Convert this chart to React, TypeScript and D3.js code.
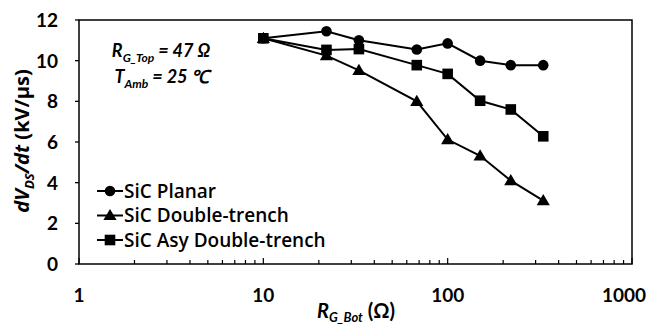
import React from "react";
import * as d3 from "d3";

const xValues = [10, 22, 33, 68, 100, 150, 220, 330];
const planar = [11.1, 11.45, 11.0, 10.55, 10.85, 10.0, 9.78, 9.78];
const doubleTrench = [11.1, 10.25, 9.52, 8.0, 6.12, 5.32, 4.1, 3.12];
const asyDoubleTrench = [11.1, 10.53, 10.57, 9.78, 9.35, 8.03, 7.6, 6.28];
const yTicks = [0, 2, 4, 6, 8, 10, 12];
const xTicks = [1, 10, 100, 1000];
const seriesNames = ["SiC Planar", "SiC Double-trench", "SiC Asy Double-trench"];

const FONT = "Lato, 'Open Sans', sans-serif";
const FONT2 = "'Open Sans', Lato, sans-serif";

function Marker({ type, x, y }: { type: string; x: number; y: number }) {
  if (type === "circle") return <circle cx={x} cy={y} r={5.3} fill="#000" />;
  if (type === "square") return <rect x={x - 5.3} y={y - 5.3} width={10.6} height={10.6} fill="#000" />;
  const s = 6.6;
  return <path d={`M${x},${y - s}L${x + s},${y + s * 0.7}L${x - s},${y + s * 0.7}Z`} fill="#000" />;
}

export default function App() {
  const x = d3.scaleLog().domain([1, 1000]).range([79, 632]);
  const y = d3.scaleLinear().domain([0, 12]).range([264, 20]);
  const line = d3
    .line<[number, number]>()
    .x((d) => x(d[0]))
    .y((d) => y(d[1]));
  const series = [
    { name: seriesNames[0], data: planar, marker: "circle" },
    { name: seriesNames[1], data: doubleTrench, marker: "triangle" },
    { name: seriesNames[2], data: asyDoubleTrench, marker: "square" },
  ];
  const minorTicks: number[] = [];
  for (let dec = 1; dec < 1000; dec *= 10) {
    for (let k = 2; k <= 9; k++) minorTicks.push(dec * k);
  }
  const [x0, x1] = x.range();
  const [yb, yt] = y.range();
  return (
    <svg
      width={649}
      height={324}
      style={{ position: "absolute", left: 0, top: 0, background: "#fff" }}
      fontFamily={FONT}
    >
      <rect x={0} y={0} width={649} height={324} fill="#fff" />
      {/* frame */}
      <rect x={x0} y={yt} width={x1 - x0} height={yb - yt} fill="none" stroke="#000" strokeWidth={1.5} />
      {/* y ticks */}
      {yTicks.map((t) => (
        <g key={t}>
          <line x1={x0 - 4} x2={x0} y1={y(t)} y2={y(t)} stroke="#000" strokeWidth={1.3} />
          <text x={58} y={y(t)} dy="0.36em" textAnchor="end" fontSize={19} fontWeight={700}>
            {t}
          </text>
        </g>
      ))}
      {/* x ticks */}
      {minorTicks.map((t) => (
        <line key={t} x1={x(t)} x2={x(t)} y1={yb} y2={yb - 4} stroke="#000" strokeWidth={1.2} />
      ))}
      {xTicks.map((t) => (
        <g key={t}>
          <line x1={x(t)} x2={x(t)} y1={yb} y2={yb - 6} stroke="#000" strokeWidth={1.2} />
          <text x={Math.min(x(t), 624)} y={302} textAnchor="middle" fontSize={19} fontWeight={700}>
            {t}
          </text>
        </g>
      ))}
      {/* series */}
      {series.map((s) => {
        const pts = xValues.map((v, i) => [v, s.data[i]] as [number, number]);
        return (
          <g key={s.name}>
            <path d={line(pts) || ""} fill="none" stroke="#000" strokeWidth={2} />
            {pts.map((p, i) => (
              <Marker key={i} type={s.marker} x={x(p[0])} y={y(p[1])} />
            ))}
          </g>
        );
      })}
      {/* legend */}
      {series.map((s, i) => {
        const cy = 191 + i * 24.5;
        return (
          <g key={s.name}>
            <line x1={97} x2={123} y1={cy} y2={cy} stroke="#000" strokeWidth={2} />
            <Marker type={s.marker} x={110} y={cy} />
            <text x={124} y={cy} dy="0.36em" fontSize={19} fontWeight={600} fontFamily={FONT2}>
              {s.name}
            </text>
          </g>
        );
      })}
      {/* annotation */}
      <text x={161} y={57} textAnchor="middle" fontSize={18} fontWeight={700} fontStyle="italic">
        <tspan>R</tspan>
        <tspan fontSize={12} dy={5}>G_Top</tspan>
        <tspan dy={-5}> = 47 Ω</tspan>
      </text>
      <text x={162} y={83} textAnchor="middle" fontSize={18} fontWeight={700} fontStyle="italic">
        <tspan>T</tspan>
        <tspan fontSize={12} dy={5}>Amb</tspan>
        <tspan dy={-5}> = 25 ℃</tspan>
      </text>
      {/* x title */}
      <text x={356} y={318} textAnchor="middle" fontSize={20} fontWeight={700}>
        <tspan fontStyle="italic">R</tspan>
        <tspan fontStyle="italic" fontSize={13} dy={4}>G_Bot</tspan>
        <tspan dy={-4}> (Ω)</tspan>
      </text>
      {/* y title */}
      <text
        transform={`translate(29,141) rotate(-90)`}
        textAnchor="middle"
        fontSize={20}
        fontWeight={700}
        fontFamily={FONT2}
      >
        <tspan fontStyle="italic">dV</tspan>
        <tspan fontStyle="italic" fontSize={13} dy={5}>DS</tspan>
        <tspan fontStyle="italic" dy={-5}>/dt</tspan>
        <tspan> (kV/μs)</tspan>
      </text>
    </svg>
  );
}
